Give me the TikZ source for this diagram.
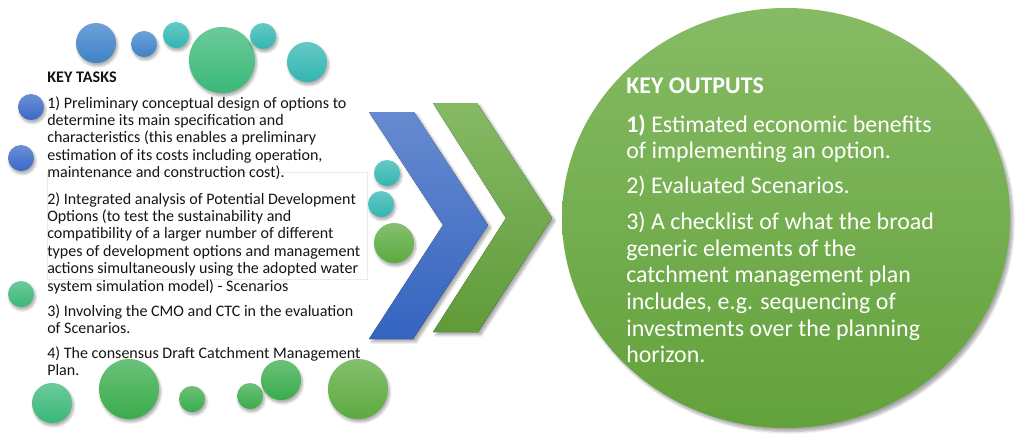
\documentclass[tikz,border=0pt]{standalone}
\usepackage{fontspec}
\setmainfont{Carlito}
\usepackage{xcolor}
\usepackage{tikz}
\usetikzlibrary{shapes.geometric,shadows.blur,positioning}
\definecolor{bubblue}{RGB}{62,130,200}
\definecolor{bubroyal}{RGB}{58,105,200}
\definecolor{bubteal}{RGB}{50,182,178}
\definecolor{bubmint}{RGB}{58,184,120}
\definecolor{bubgreen}{RGB}{58,172,76}
\definecolor{bubleaf}{RGB}{92,170,62}
\definecolor{chevblue}{RGB}{52,100,192}
\definecolor{chevgreen}{RGB}{104,168,62}
\definecolor{outgreen}{RGB}{104,170,62}
\definecolor{darktext}{RGB}{20,20,20}
\tikzset{
  bubble/.style  ={circle, inner sep=0pt, draw=none,
                   blur shadow={shadow xshift=1pt, shadow yshift=-2pt, shadow blur steps=6, shadow opacity=35}},
  chevron/.style ={draw=none,
                   blur shadow={shadow xshift=2pt, shadow yshift=-2pt, shadow blur steps=6, shadow opacity=35}},
  outcircle/.style={ellipse, inner sep=0pt, draw=none,
                   top color=outgreen!80!white, bottom color=outgreen!95!black,
                   blur shadow={shadow xshift=2pt, shadow yshift=-2.5pt, shadow blur steps=8, shadow opacity=35}},
  tasktitle/.style={anchor=north west, inner sep=0pt, font=\fontsize{11.5}{13}\selectfont\bfseries, text=darktext},
  task/.style    ={anchor=north west, inner sep=0pt, align=left,
                   font=\fontsize{11.4}{12.4}\selectfont, text=darktext},
  outtitle/.style={anchor=north west, inner sep=0pt, font=\fontsize{17}{19}\selectfont\bfseries, text=white},
  outtext/.style ={anchor=north west, inner sep=0pt, align=left,
                   font=\fontsize{17}{18.9}\selectfont, text=white},
  boxline/.style ={draw=black!40!green!12, line width=0.5pt}
}
\begin{document}
\begin{tikzpicture}[x=0.025cm, y=-0.025cm]
  \useasboundingbox (0,0) rectangle (1015,434);

  % bubbles round the key tasks
  \foreach \bx/\by/\br/\bcol [count=\i] in {
      96/43/20/bubblue, 144/44/13/bubblue, 176/35/13/bubteal, 222/60/33/bubmint,
      263/36/13/bubteal, 307/62/20/bubteal, 31/107/13/bubroyal, 21/158/13/bubroyal,
      21/294/13/bubmint, 387/173/13/bubteal, 381/204/13/bubteal, 394/243/20/bubleaf,
      52/403/20/bubmint, 129/389/30/bubgreen, 192/399/13/bubgreen, 250/396/13/bubgreen,
      281/380/20/bubgreen, 358/389/30/bubleaf}
    \node[bubble, minimum size=\br*0.05cm, top color=\bcol!75!white, bottom color=\bcol] (bub\i) at (\bx,\by) {};

  % faint frame round task 2
  \draw[boxline] (47,172) rectangle (367,279);

  % key tasks
  \node[tasktitle] (ttl) at (47,72) {KEY TASKS};
  \node[task] (tsk1) at (47,96) {1) Preliminary conceptual design of options to\\determine its main specification and\\characteristics (this enables a preliminary\\estimation of its costs including operation,\\maintenance and construction cost).};
  \node[task] (tsk2) at (47,192) {2) Integrated analysis of Potential Development\\Options (to test the sustainability and\\compatibility of a larger number of different\\types of development options and management\\actions simultaneously using the adopted water\\system simulation model) - Scenarios};
  \node[task] (tsk3) at (47,304) {3) Involving the CMO and CTC in the evaluation\\of Scenarios.};
  \node[task] (tsk4) at (47,346) {4) The consensus Draft Catchment Management\\Plan.};

  % chevrons
  \fill[chevron, top color=chevblue!75!white, bottom color=chevblue]
    (369,112) -- (414,112) -- (488,225) -- (413,339) -- (369,339) -- (443,225) -- cycle;
  \fill[chevron, top color=chevgreen!80!white, bottom color=chevgreen!92!black]
    (433,103) -- (477,103) -- (552,218) -- (478,332) -- (433,332) -- (506,218) -- cycle;

  % key outputs
  \node[outcircle, minimum width=448*0.025cm, minimum height=420*0.025cm] (outc) at (786,218) {};
  \node[outtitle] (otl) at (626,78) {KEY OUTPUTS};
  \node[outtext] (out1) at (626,114) {\textbf{1)} Estimated economic benefits\\of implementing an option.};
  \node[outtext] (out2) at (626,176) {2) Evaluated Scenarios.};
  \node[outtext] (out3) at (626,212) {3) A checklist of what the broad\\generic elements of the\\catchment management plan\\includes, e.g. sequencing of\\investments over the planning\\horizon.};
\end{tikzpicture}
\end{document}
